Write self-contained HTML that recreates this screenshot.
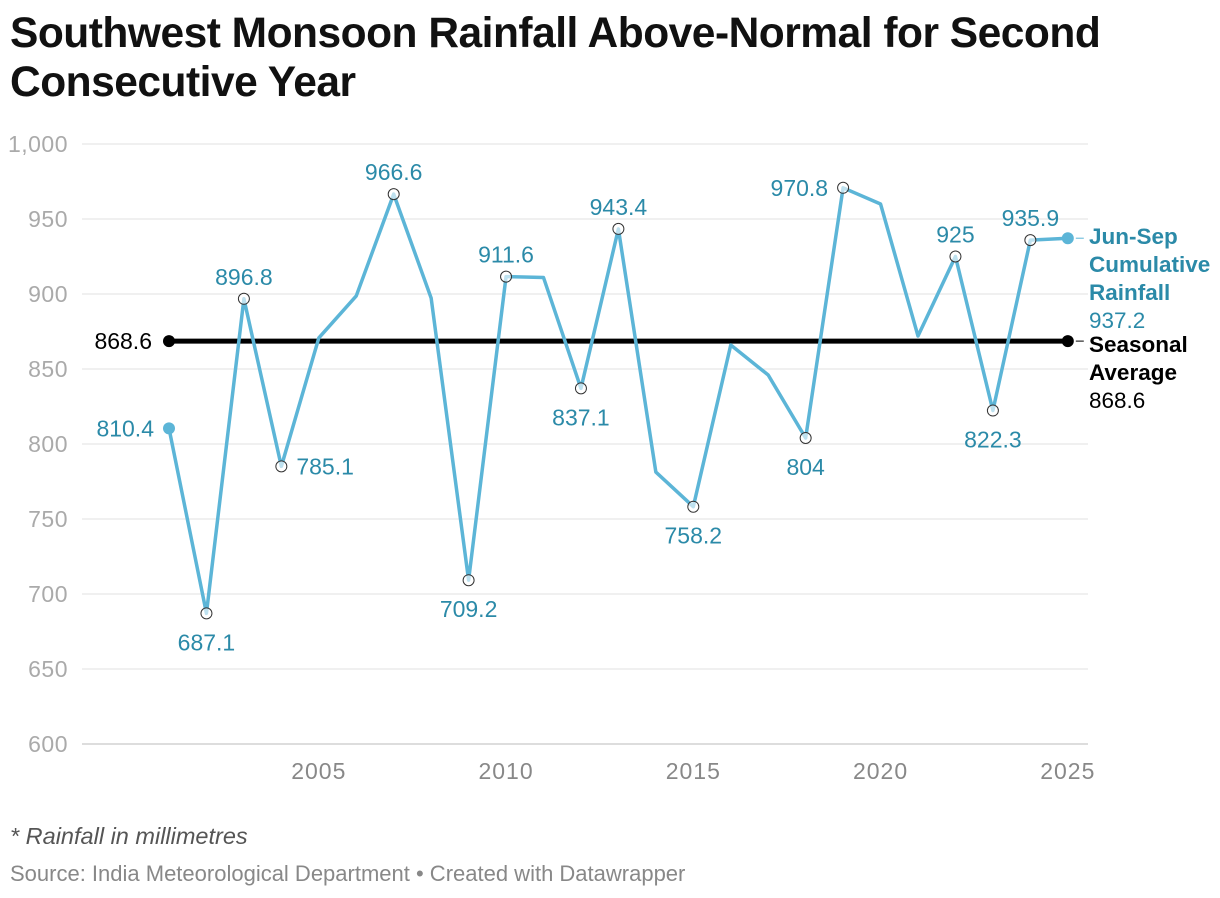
<!DOCTYPE html>
<html><head><meta charset="utf-8">
<style>
body{margin:0;background:#fff;font-family:"Liberation Sans",sans-serif;}
#wrap{position:relative;width:1220px;height:898px;overflow:hidden;}
h1{position:absolute;left:10px;top:9px;margin:0;font-size:42.5px;line-height:49px;font-weight:bold;color:#111;letter-spacing:-0.5px;width:1210px}
.note{position:absolute;left:10px;top:823px;font-size:23.5px;font-style:italic;color:#555}
.src{position:absolute;left:10px;top:861px;font-size:22px;color:#888}
svg{position:absolute;left:0;top:0}
</style></head><body>
<div id="wrap">
<h1>Southwest Monsoon Rainfall Above-Normal for Second Consecutive Year</h1>
<svg id="chart" width="1220" height="898"></svg>
<div class="note">* Rainfall in millimetres</div>
<div class="src">Source: India Meteorological Department • Created with Datawrapper</div>
</div>
<script>
const years=[2001,2002,2003,2004,2005,2006,2007,2008,2009,2010,2011,2012,2013,2014,2015,2016,2017,2018,2019,2020,2021,2022,2023,2024,2025];
const rainfall=[810.4,687.1,896.8,785.1,870.7,898.7,966.6,897.3,709.2,911.6,911,837.1,943.4,781.3,758.2,866,846,804,970.8,960,872,925,822.3,935.9,937.2];
const labels=[["810.4","left"],["687.1","below"],["896.8","above"],["785.1","right"],null,null,["966.6","above"],null,["709.2","below"],["911.6","above"],null,["837.1","below"],["943.4","above"],null,["758.2","below"],null,null,["804","below"],["970.8","left"],null,null,["925","above"],["822.3","below"],["935.9","above"],null];
const average=868.6;
const yTicks=[600,650,700,750,800,850,900,950,1000];
const xTicks=[2005,2010,2015,2020,2025];
const NS="http://www.w3.org/2000/svg";
const svg=document.getElementById('chart');
const x=y=>169+(y-2001)*37.45;
const yS=v=>744-(v-600)*1.5;
function el(t,a,txt){const e=document.createElementNS(NS,t);for(const k in a)e.setAttribute(k,a[k]);if(txt!=null)e.textContent=txt;svg.appendChild(e);return e;}
yTicks.forEach(t=>{
 const g=el('line',{x1:82,x2:1088,y1:yS(t),y2:yS(t),stroke:t===600?'#bbb':'#e2e2e2','stroke-width':1});
 
 
 const l=el('text',{x:68,y:yS(t)+8,'text-anchor':'end','font-size':23,fill:'#aaa','letter-spacing':'0.5'},t===1000?'1,000':String(t));
 
 
});
xTicks.forEach(t=>{
 const l=el('text',{x:x(t),y:779,'text-anchor':'middle','font-size':23,fill:'#888','letter-spacing':'1'},String(t));
 
 
});
const av=el('line',{x1:x(2001),x2:x(2025),y1:yS(average),y2:yS(average),stroke:'#000','stroke-width':5});


[2001,2025].forEach(yr=>{const d=el('circle',{cx:x(yr),cy:yS(average),r:6,fill:'#000'});
 
 });
const al=el('text',{x:x(2001)-17,y:yS(average)+8,'text-anchor':'end','font-size':23,fill:'#000'},String(average));


const pts=years.map((yr,i)=>x(yr)+','+yS(rainfall[i])).join(' ');
const pl=el('polyline',{points:pts,fill:'none',stroke:'#5cb5d7','stroke-width':3.5,'stroke-linejoin':'round'});


years.forEach((yr,i)=>{
 const lb=labels[i];const cx=x(yr),cy=yS(rainfall[i]);
 if(i===0||i===years.length-1){
  const d=el('circle',{cx,cy,r:6,fill:'#5cb5d7'});
  
  
 } else if(lb){
  const d=el('circle',{cx,cy,r:5.5,fill:'rgba(255,255,255,0.6)',stroke:'#333','stroke-width':1});
  
  
 }
 if(lb){
  let tx=cx,ty,anc='middle';
  if(lb[1]==='above')ty=cy-14;
  else if(lb[1]==='below')ty=cy+37;
  else if(lb[1]==='left'){tx=cx-15;ty=cy+8;anc='end';}
  else {tx=cx+15;ty=cy+8;anc='start';}
  const t=el('text',{x:tx,y:ty,'text-anchor':anc,'font-size':23,fill:'#2b8aa8'},lb[0]);
  
  
 }
});
const r1=el('line',{x1:x(2025)+8,x2:x(2025)+16,y1:yS(937.2),y2:yS(937.2),stroke:'#5cb5d7','stroke-width':1});


[['Jun-Sep',244],['Cumulative',272],['Rainfall',300]].forEach(a=>{
 const t=el('text',{x:1089,y:a[1],'font-size':22.5,'font-weight':'bold',fill:'#2b8aa8'},a[0]);
 
 
});
const v1=el('text',{x:1089,y:328,'font-size':22.5,fill:'#2b8aa8'},'937.2');


const r2=el('line',{x1:x(2025)+8,x2:x(2025)+16,y1:yS(average),y2:yS(average),stroke:'#000','stroke-width':1});


[['Seasonal',352],['Average',380]].forEach(a=>{
 const t=el('text',{x:1089,y:a[1],'font-size':22.5,'font-weight':'bold',fill:'#000'},a[0]);
 
 
});
const v2=el('text',{x:1089,y:408,'font-size':22.5,fill:'#000'},String(average));


</script>
</body></html>
